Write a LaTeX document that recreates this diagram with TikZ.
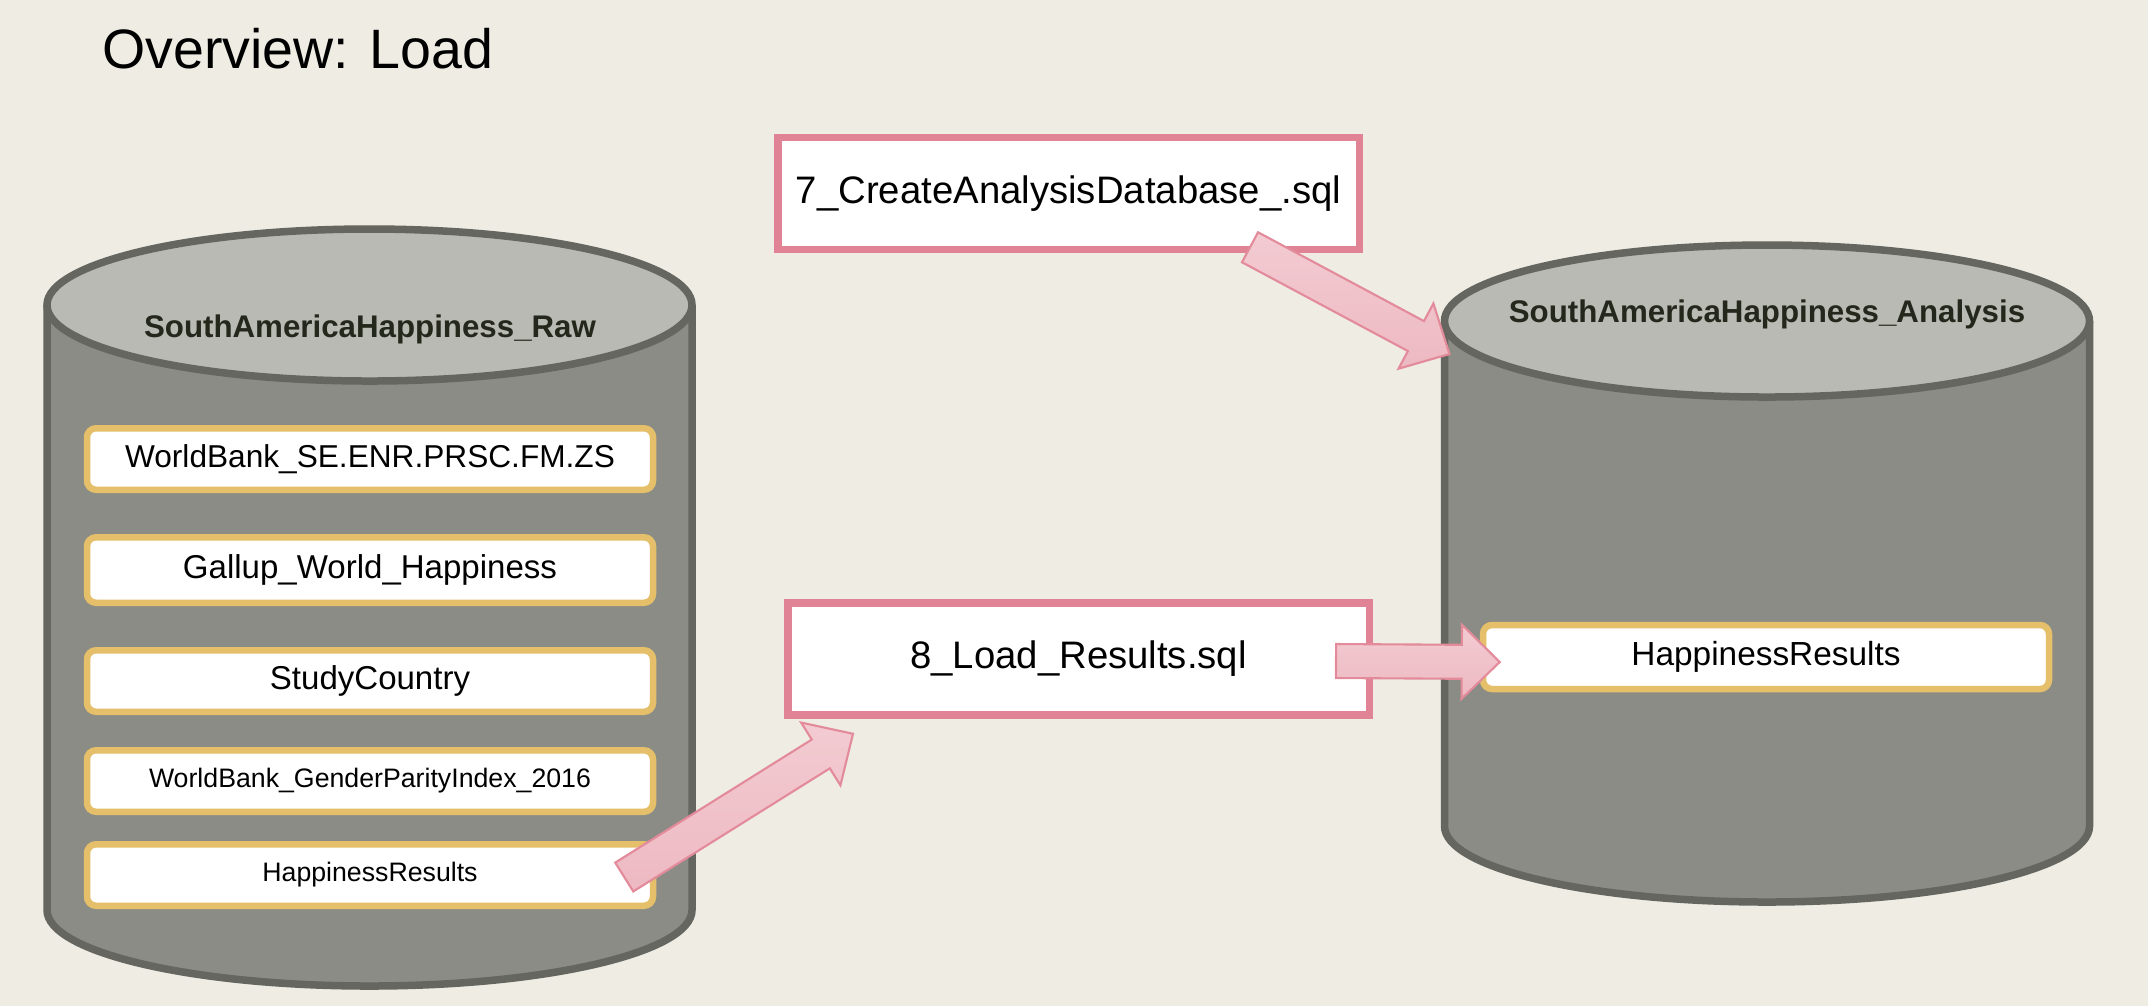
\documentclass[tikz,border=0pt]{standalone}
\usepackage{fontspec}
\setmainfont{Liberation Sans}
\usetikzlibrary{positioning,calc}

\definecolor{slidebg}{HTML}{EEECE3}
\definecolor{cylbody}{HTML}{8B8C85}
\definecolor{cyltop}{HTML}{B9BAB3}
\definecolor{cylline}{HTML}{65665F}
\definecolor{tblgold}{HTML}{E5BF69}
\definecolor{sqlpink}{HTML}{E08394}
\definecolor{arrowtop}{HTML}{F3CBD2}
\definecolor{arrowbot}{HTML}{EDB9C2}
\definecolor{arrowedge}{HTML}{E38A9B}
\definecolor{dblabel}{HTML}{24271B}

% fat pink arrow from #1 (tail) to #2 (tip)
\newcommand{\pinkarrow}[2]{%
  \coordinate (ah) at ($(#2)!0.38cm!(#1)$);
  \draw[pinkarrow] ($(#1)!0.17cm!90:(#2)$) -- ($(ah)!0.17cm!90:(#2)$)
    -- ($(ah)!0.37cm!90:(#2)$) -- (#2) -- ($(ah)!0.37cm!-90:(#2)$)
    -- ($(ah)!0.17cm!-90:(#2)$) -- ($(#1)!0.17cm!-90:(#2)$) -- cycle;}

\begin{document}
\begin{tikzpicture}[
    cyl/.style={draw=cylline, line width=0.075cm},
    tblbox/.style={draw=tblgold, fill=white, line width=0.065cm, rounded corners=0.09cm,
      minimum width=5.66cm, minimum height=0.615cm, inner sep=0pt,
      font=\fontsize{9.4}{11}\selectfont},
    smalltbl/.style={tblbox, font=\fontsize{7.6}{9}\selectfont},
    sqlbox/.style={draw=sqlpink, fill=white, line width=0.075cm, minimum width=5.815cm,
      minimum height=1.12cm, inner sep=0pt, font=\fontsize{10.9}{13}\selectfont},
    dbname/.style={text=dblabel, font=\bfseries\fontsize{8.9}{11}\selectfont},
    pinkarrow/.style={draw=arrowedge, line width=0.6pt, top color=arrowtop, bottom color=arrowbot}
  ]
    \fill[slidebg] (0,0) rectangle (21.48,-10.06);
    \useasboundingbox (0,0) rectangle (21.48,-10.06);

    \node[anchor=base west, font=\fontsize{15.8}{19}\selectfont] (title) at (0.90,-0.68) {Overview: Load};

    % raw database
    \draw[cyl, fill=cylbody] (0.47,-3.05) -- (0.47,-9.10)
      arc[start angle=180, end angle=360, x radius=3.225cm, y radius=0.76cm] -- (6.92,-3.05);
    \draw[cyl, fill=cyltop] (3.695,-3.05) ellipse[x radius=3.225cm, y radius=0.76cm];
    \node[dbname] (rawdb) at (3.70,-3.29) {SouthAmericaHappiness\_Raw};

    % analysis database
    \draw[cyl, fill=cylbody] (14.445,-3.21) -- (14.445,-8.26)
      arc[start angle=180, end angle=360, x radius=3.225cm, y radius=0.76cm] -- (20.895,-3.21);
    \draw[cyl, fill=cyltop] (17.67,-3.21) ellipse[x radius=3.225cm, y radius=0.76cm];
    \node[dbname] (anadb) at (17.67,-3.14) {SouthAmericaHappiness\_Analysis};

    % raw tables
    \node[tblbox, font=\fontsize{9}{11}\selectfont] (tblwb) at (3.70,-4.59) {WorldBank\_SE.ENR.PRSC.FM.ZS};
    \node[tblbox, minimum height=0.655cm, below=0.41cm of tblwb] (tblgallup) {Gallup\_World\_Happiness};
    \node[tblbox, below=0.41cm of tblgallup] (tblcountry) {StudyCountry};
    \node[smalltbl, below=0.32cm of tblcountry] (tblgpi) {WorldBank\_GenderParityIndex\_2016};
    \node[smalltbl, below=0.26cm of tblgpi] (rawres) {HappinessResults};

    % analysis table
    \node[tblbox, minimum height=0.64cm, font=\fontsize{9.5}{11}\selectfont] (anres) at (17.66,-6.57) {HappinessResults};

    % scripts
    \node[sqlbox] (sqlcreate) at (10.685,-1.935) {7\_CreateAnalysisDatabase\_.sql};
    \node[sqlbox] (sqlload) at (10.785,-6.59) {8\_Load\_Results.sql};

    % arrows
    \coordinate (createfrom) at ($(sqlcreate.south east)+(-1.13,0.06)$);
    \coordinate (createto) at ($(anadb.west)+(-0.47,-0.40)$);
    \coordinate (loadfrom) at ($(rawres.east)+(-0.32,-0.02)$);
    \coordinate (loadto) at ($(sqlload.south west)+(0.69,-0.15)$);
    \coordinate (resfrom) at ($(sqlload.east)+(-0.37,-0.02)$);
    \coordinate (resto) at ($(anres.west)+(0.20,-0.05)$);
    \pinkarrow{createfrom}{createto}
    \pinkarrow{loadfrom}{loadto}
    \pinkarrow{resfrom}{resto}
\end{tikzpicture}
\end{document}
